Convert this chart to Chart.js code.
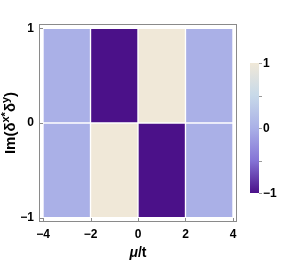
<!DOCTYPE html>
<html><head><meta charset="utf-8">
<style>html,body{margin:0;padding:0;background:#fff}#wrap{width:291px;height:262px;position:relative}canvas{display:block}</style>
<script src="https://cdn.jsdelivr.net/npm/chart.js@4"></script>
</head><body><div id="wrap"><canvas id="c" width="291" height="262" style="width:291px;height:262px"></canvas></div>
<script>
// ---- data ----
const muEdges = [-4, -2, 0, 2, 4];
const imRowCenters = [0.5, -0.5];
const rowValues = [
  [0, -1, 1, 0],   // Im in (0, 1)
  [0, 1, -1, 0]    // Im in (-1, 0)
];
const xTicks = [-4, -2, 0, 2, 4];
const yTicks = [-1, 0, 1];
const cbTicks = [-1, 0, 1];
const cbMinorTicks = [-0.5, 0.5];
const colorStops = [[-1, '#4b1189'], [-0.5, '#8574d6'], [0, '#aab0e7'], [0.5, '#c7d9e9'], [1, '#f0e8d8']];

function hex(c){return [parseInt(c.slice(1,3),16),parseInt(c.slice(3,5),16),parseInt(c.slice(5,7),16)];}
function colorFor(v){
  for(let i=0;i<colorStops.length-1;i++){
    const [a,ca]=colorStops[i],[b,cb]=colorStops[i+1];
    if(v>=a&&v<=b){const t=(v-a)/(b-a);const A=hex(ca),B=hex(cb);
      return 'rgb('+A.map((x,k)=>Math.round(x+(B[k]-x)*t)).join(',')+')';}
  }
  return colorStops[colorStops.length-1][1];
}

const cells=[], cellColors=[];
imRowCenters.forEach((yc,r)=>{
  rowValues[r].forEach((v,i)=>{
    cells.push({x:[muEdges[i],muEdges[i+1]], y:yc});
    cellColors.push(colorFor(v));
  });
});

const fmt = v => String(v).replace('-', '\u2212');
const FONT = '"Liberation Sans", Arial, sans-serif';

const decor = {
  id:'decor',
  afterDraw(chart){
    const {ctx, chartArea:a, scales:{x,y}} = chart;
    ctx.save();
    // frame
    ctx.strokeStyle='#8a8a8a'; ctx.lineWidth=1;
    ctx.strokeRect(Math.round(a.left)+0.5, Math.round(a.top)+0.5, Math.round(a.right-a.left)-1, Math.round(a.bottom-a.top)-1);
    // inward ticks
    ctx.beginPath();
    xTicks.forEach(v=>{const px=Math.round(x.getPixelForValue(v))+0.5; ctx.moveTo(px,a.bottom-1); ctx.lineTo(px,a.bottom-4);});
    yTicks.forEach(v=>{const py=Math.round(y.getPixelForValue(v))+0.5; ctx.moveTo(a.left+1,py); ctx.lineTo(a.left+4,py);});
    ctx.stroke();
    // colorbar
    const cbX = a.right + 13, cbW = 9, cbTop = 63, cbBot = 193;
    const g = ctx.createLinearGradient(0, cbBot, 0, cbTop);
    colorStops.forEach(([v,c])=>g.addColorStop((v+1)/2, c));
    ctx.fillStyle=g; ctx.fillRect(cbX, cbTop, cbW, cbBot-cbTop);
    const cbPix = v => cbBot - (v+1)/2*(cbBot-cbTop);
    ctx.strokeStyle='#9a9a9a'; ctx.beginPath();
    cbTicks.concat(cbMinorTicks).forEach(v=>{const py=Math.round(cbPix(v))+0.5; ctx.moveTo(cbX+cbW,py); ctx.lineTo(cbX+cbW+3,py);});
    ctx.stroke();
    ctx.fillStyle='#000'; ctx.font='bold 12px '+FONT; ctx.textBaseline='middle'; ctx.textAlign='left';
    cbTicks.forEach(v=>ctx.fillText(fmt(v), cbX+cbW+4, cbPix(v)+1));
    // x title: μ/t
    const parts=[['italic bold 14px '+FONT,'\u03bc'],['bold 14px '+FONT,'/t']];
    let w=0; parts.forEach(([f,t])=>{ctx.font=f; w+=ctx.measureText(t).width;});
    let cx=(a.left+a.right)/2 - w/2; const ty=253;
    ctx.textAlign='left'; ctx.textBaseline='middle';
    parts.forEach(([f,t])=>{ctx.font=f; ctx.fillText(t,cx,ty); cx+=ctx.measureText(t).width;});
    // y title: Im(δ^{x*}δ^y)
    const big='bold 15px '+FONT, sm='bold 11px '+FONT;
    const yp=[[big,'Im(\u03b4',0],[sm,'x*',-5],[big,'\u03b4',0],[sm,'y',-5],[big,')',0]];
    w=0; yp.forEach(([f,t])=>{ctx.font=f; w+=ctx.measureText(t).width;});
    ctx.translate(11, (a.top+a.bottom)/2); ctx.rotate(-Math.PI/2);
    cx=-w/2;
    yp.forEach(([f,t,dy])=>{ctx.font=f; ctx.fillText(t,cx,dy); cx+=ctx.measureText(t).width;});
    ctx.restore();
  }
};

new Chart(document.getElementById('c'), {
  type:'bar',
  data:{datasets:[{
    data: cells,
    backgroundColor: cellColors,
    borderColor:'#ffffff', borderWidth:1, borderSkipped:false,
    barPercentage:1, categoryPercentage:1
  }]},
  options:{
    indexAxis:'y',
    responsive:false, animation:false, devicePixelRatio:1,
    layout:{padding:{top:24,right:54,left:0,bottom:0}},
    plugins:{legend:{display:false}, tooltip:{enabled:false}},
    scales:{
      x:{type:'linear', min:-4.17, max:4.17, offset:false,
        afterBuildTicks:s=>{s.ticks=xTicks.map(v=>({value:v}));},
        afterFit:s=>{s.height=40;},
        grid:{display:false, drawTicks:false}, border:{display:false},
        ticks:{padding:5, color:'#000', font:{family:FONT, size:12, weight:'bold'}, callback:v=>fmt(v), maxRotation:0, autoSkip:false}
      },
      y:{type:'linear', min:-1.045, max:1.045, offset:false,
        afterBuildTicks:s=>{s.ticks=yTicks.map(v=>({value:v}));},
        afterFit:s=>{s.width=39;},
        grid:{display:false, drawTicks:false}, border:{display:false},
        ticks:{padding:5, color:'#000', font:{family:FONT, size:12, weight:'bold'}, callback:v=>fmt(v), autoSkip:false}
      }
    }
  },
  plugins:[decor]
});
</script>
</body></html>
